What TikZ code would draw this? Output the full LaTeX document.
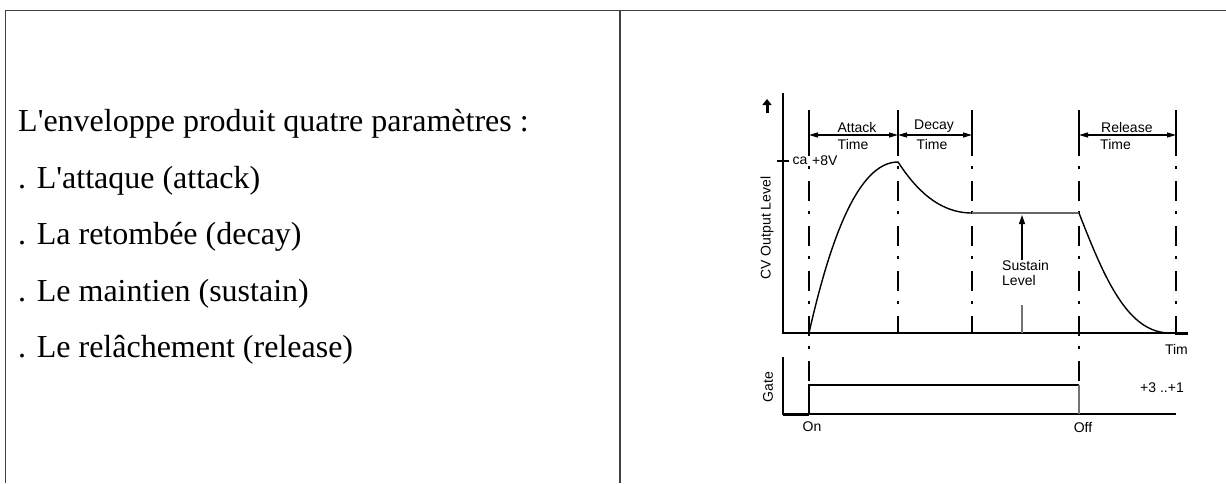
\documentclass[tikz,border=0pt]{standalone}
\usepackage{fontspec}
\setmainfont{Liberation Serif}
\newfontfamily\chartfont{Liberation Sans}
\usetikzlibrary{arrows.meta}

\begin{document}
\begin{tikzpicture}[
      x=1pt, y=-1pt,
      frame/.style={draw=black!75, line width=1.5pt},
      para/.style={anchor=west, inner sep=0pt,
                   font=\fontsize{32}{38}\selectfont},
      lbl/.style={inner sep=0pt, font=\chartfont\fontsize{14}{15}\selectfont},
      axis/.style={line width=1.6pt},
      guide/.style={line width=1.3pt,
                    dash pattern=on 20pt off 10pt on 3pt off 12pt},
      curve/.style={line width=1.4pt},
      dim/.style={line width=1.2pt,
                  {Triangle[length=9pt,width=5pt]}-{Triangle[length=9pt,width=5pt]}},
      >={Triangle[length=9pt,width=6pt]}]

    \useasboundingbox (0,0) rectangle (1226,483);

    % frame of the table
    \draw[frame] (5.5,483) |- (1226,10.5);
    \draw[frame] (620,10.5) -- (620,483);

    % left column
    \node[para] (title) at (18,124)
      {L\textquotesingle enveloppe produit quatre paramètres :};
    \node[para] (itema) at (18,181) {. L\textquotesingle attaque (attack)};
    \node[para] (itemd) at (18,237) {. La retombée (decay)};
    \node[para] (items) at (18,294) {. Le maintien (sustain)};
    \node[para] (itemr) at (18,350) {. Le relâchement (release)};

    % CV output axes
    \draw[-{Triangle[length=6pt,width=9pt]}, line width=3pt] (767,113) -- (767,99);
    \draw[axis] (783,93) -- (783,333) -- (1176,333);
    \draw[line width=3pt] (1175,333) -- (1188,333);
    \node[lbl, rotate=90] (cvlabel) at (767,228) {CV Output Level};
    \node[lbl, anchor=north east] (timlabel) at (1188,344) {Tim};

    % +8V mark
    \draw[line width=2.5pt] (777,161) -- (789,161);
    \node[lbl] (calabel) at (800,161) {ca};
    \node[lbl, anchor=west] (peaklabel) at (812,161) {+8V};

    % time marks
    \foreach \t in {809,898,972,1079,1176}
      \draw[line width=1.3pt] (\t,110) -- (\t,136);
    \foreach \t in {898,972,1176}
      \draw[guide] (\t,136) -- (\t,333);
    \foreach \t in {809,1079}
      \draw[guide] (\t,136) -- (\t,385);

    % phase lengths
    \draw[dim] (809,135) -- (898,135);
    \draw[dim] (898,135) -- (972,135);
    \draw[dim] (1079,135) -- (1176,135);
    \node[lbl, anchor=south] (attack) at (857,133) {Attack};
    \node[lbl, anchor=north] (attackt) at (853,139) {Time};
    \node[lbl, anchor=south] (decay) at (934,133) {Decay};
    \node[lbl, anchor=north] (decayt) at (932,139) {Time};
    \node[lbl, anchor=south west] (release) at (1101,133) {Release};
    \node[lbl, anchor=north west] (releaset) at (1100,139) {Time};

    % envelope
    \draw[curve] (809,333) .. controls (830,240) and (858,162) .. (898,162)
                 .. controls (915,188) and (938,213) .. (972,213);
    \draw[line width=2pt, black!60] (972,213) -- (1079,213);
    \draw[curve] (1079,213) .. controls (1105,280) and (1128,333) .. (1170,333);

    % sustain level
    \node[lbl, anchor=north west, align=left] (suslabel) at (1002,260)
      {Sustain\\Level};
    \draw[->, line width=1.2pt] (suslabel.north -| 1022,0) -- (1022,215);
    \draw[line width=1.5pt, black!55] (1022,305) -- (1022,333);

    % gate
    \draw[axis] (783,357) -- (783,414) -- (1176,414);
    \draw[line width=3pt] (783,414) -- (809,414);
    \draw[line width=1.5pt] (809,414) -- (809,385) -- (1079,385);
    \draw[line width=1.8pt, black!55] (1079,385) -- (1079,414);
    \node[lbl, rotate=90] (gatelabel) at (768,387) {Gate};
    \node[lbl] (gatelevel) at (1162,388) {+3 ..+1};
    \node[lbl] (onlabel) at (812,427) {On};
    \node[lbl] (offlabel) at (1083,427) {Off};
  \end{tikzpicture}
\end{document}
